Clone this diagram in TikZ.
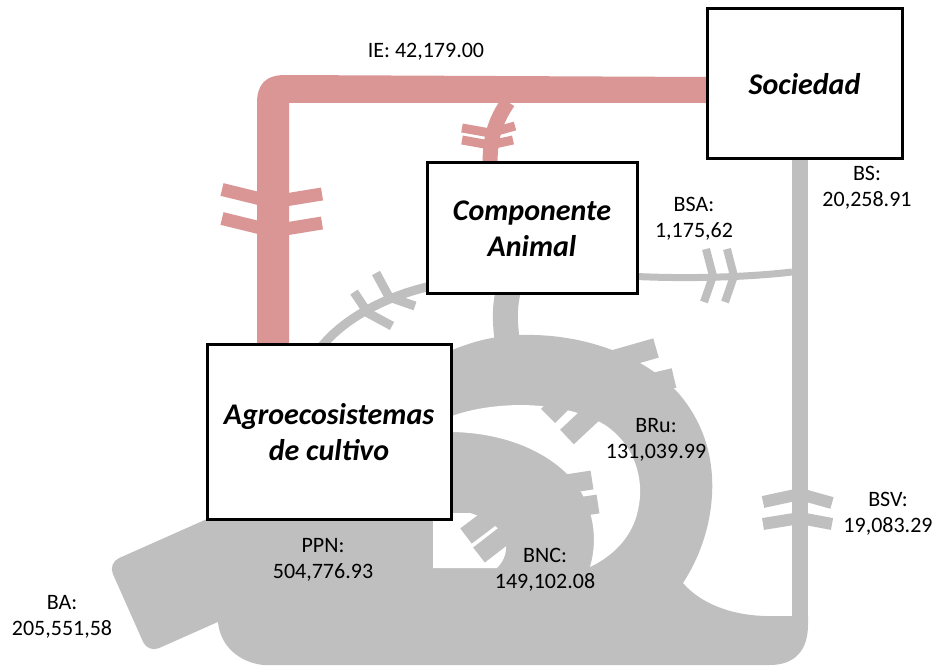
\documentclass[tikz,border=0pt]{standalone}
\usepackage{fontspec}
\setmainfont{Carlito}
\definecolor{grayc}{HTML}{BFBFBF}
\definecolor{pinkc}{HTML}{D99694}
\begin{document}
\begin{tikzpicture}[x=1pt,y=-1pt,
  box/.style={draw=black, line width=3pt, fill=white, align=center, inner sep=0pt,
    font=\bfseries\itshape\fontsize{30}{36}\selectfont},
  lab/.style={align=center, inner sep=0pt, font=\fontsize{22}{26}\selectfont},
  gband/.style={draw=grayc, line width=#1},
  pband/.style={draw=pinkc, line width=#1},
  gfeather/.style={draw=grayc, line width=#1, line join=miter},
  pfeather/.style={draw=pinkc, line width=#1, line join=miter}]
\useasboundingbox (0,0) rectangle (938,668);
% ---------------- gray main flows ----------------
\fill[grayc] (207,519) -- (452,519) -- (452,350)
  .. controls (470,343) and (490,336) .. (520,335)
  .. controls (590,333) and (650,360) .. (680,395)
  .. controls (705,425) and (714,460) .. (712,495)
  .. controls (710,530) and (698,560) .. (683,583)
  .. controls (700,603) and (730,615) .. (765,616)
  -- (808,616) -- (808,625)
  .. controls (808,650) and (795,665) .. (770,665)
  -- (263,665)
  .. controls (238,662) and (220,645) .. (218,622) -- cycle;
% BA inflow
\fill[grayc, rounded corners=12pt] (225,511) -- (108,563) -- (148,653) -- (265,601) -- cycle;
% stub from Componente Animal
\draw[gband=25] (508,292) .. controls (504,310) and (505,325) .. (508,346);
% white crescent between rings
\fill[white] (452,416) .. controls (490,402) and (560,398) .. (605,425)
  .. controls (635,445) and (645,480) .. (638,510)
  .. controls (633,535) and (615,555) .. (590,567)
  .. controls (598,540) and (595,505) .. (570,477)
  .. controls (550,455) and (510,433) .. (452,432) -- cycle;
% white hole inside inner ring
\fill[white] (433,513) -- (470,513) .. controls (510,525) and (513,552) .. (497,568)
  -- (433,568) -- cycle;
% feathers on outer ring (BRu)
\draw[gfeather=20] (548,416) -- (600,364) -- (656,348);
\draw[gfeather=20] (567,437) -- (615,392) -- (674,378);
% feathers on inner ring (BNC)
\draw[gfeather=19] (466,536) -- (527,490) -- (592,480);
\draw[gfeather=19] (479,555) -- (532,514) -- (598,504);
% vertical BS / BSV band
\draw[gband=16] (800,159) -- (800,620);
\draw[gfeather=12] (763,502) -- (800,494) -- (832,503);
\draw[gfeather=12] (763,524) -- (800,518) -- (832,524);
% BSA band
\draw[gband=7] (637,276.5) .. controls (690,279) and (750,277) .. (792,272);
\draw[gfeather=8] (706,249) -- (713,276) -- (704,302);
\draw[gfeather=8] (727,249) -- (734,276) -- (725,302);
% thin arc Componente -> Agroecosistemas
\draw[gband=9] (427,287) .. controls (385,297) and (345,318) .. (322,346);
\draw[gfeather=9] (354,292) -- (368,313) -- (392,326);
\draw[gfeather=9] (376,273) -- (389,297) -- (415,306);
% ---------------- pink IE flow ----------------
\fill[pinkc] (257,346) -- (257,103) .. controls (257,85) and (265,75) .. (285,75)
  -- (707,77) -- (707,103) -- (289,103) -- (289,346) -- cycle;
\draw[pfeather=13] (222,189.5) -- (273,202) -- (322,194);
\draw[pfeather=13] (222,218.5) -- (273,231) -- (322,223);
\draw[pband=15] (508,102) .. controls (496,120) and (490,135) .. (490,165);
\draw[pfeather=9] (462,128) -- (490,133) -- (515,126);
\draw[pfeather=9] (462,140) -- (490,145) -- (513,140);
% ---------------- boxes ----------------
\node[box, minimum width=195pt, minimum height=150pt] (soc) at (804.5,84) {Sociedad};
\node[box, minimum width=210pt, minimum height=131pt] (ani) at (532,228.5) {Componente\\Animal};
\node[box, minimum width=244pt, minimum height=174pt] (agr) at (329,432) {Agroecosistemas\\de cultivo};
% ---------------- labels ----------------
\node[lab] (ie) at (426,52) {IE: 42,179.00};
\node[lab] (bsa) at (694,219) {BSA:\\1,175,62};
\node[lab] (bs) at (867,188) {BS:\\20,258.91};
\node[lab] (bru) at (656,440) {BRu:\\131,039.99};
\node[lab] (bnc) at (545,570) {BNC:\\149,102.08};
\node[lab] (ppn) at (323,560) {PPN:\\504,776.93};
\node[lab] (bsv) at (888,514) {BSV:\\19,083.29};
\node[lab] (ba) at (62,617) {BA:\\205,551,58};
\end{tikzpicture}
\end{document}
